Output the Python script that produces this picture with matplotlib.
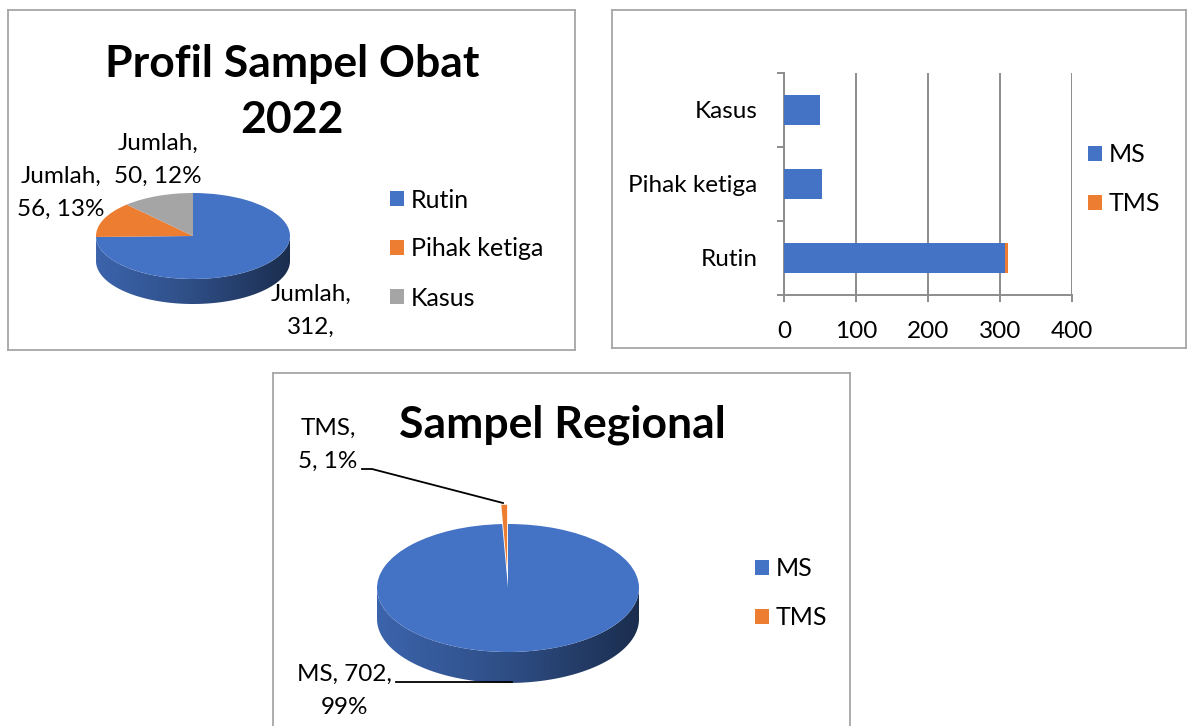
import numpy as np
import matplotlib
matplotlib.use("Agg")
import matplotlib.pyplot as plt
from matplotlib.patches import Polygon, Patch
from matplotlib.colors import LinearSegmentedColormap, to_rgb

# --- data ---------------------------------------------------------------
profil_title = "Profil Sampel Obat\n2022"
profil_series = "Jumlah"
profil_categories = ["Rutin", "Pihak ketiga", "Kasus"]
profil_values = [312, 56, 50]

bar_categories = ["Rutin", "Pihak ketiga", "Kasus"]
bar_series = ["MS", "TMS"]
bar_ms = [307, 53, 50]
bar_tms = [5, 0, 0]
bar_ticks = [0, 100, 200, 300, 400]

regional_title = "Sampel Regional"
regional_categories = ["MS", "TMS"]
regional_values = [702, 5]

BLUE, ORANGE, GRAY = "#4472C4", "#ED7D31", "#A5A5A5"
GRID = "#8C8C8C"
BORDER = "#A6A6A6"
W, H = 1188, 726
LABEL_SIZE = 17.5
LABEL_SPACING = 1.72

plt.rcParams["font.family"] = ["Lato", "DejaVu Sans"]

fig = plt.figure(figsize=(W / 100, H / 100), dpi=100)


def px_axes(x0, y0, x1, y1):
    # axes placed with image pixel coordinates (origin top-left)
    return fig.add_axes([x0 / W, 1 - y1 / H, (x1 - x0) / W, (y1 - y0) / H])


def frame_axes(x0, y0, x1, y1):
    ax = px_axes(x0, y0, x1, y1)
    ax.set_xlim(x0, x1)
    ax.set_ylim(y1, y0)
    ax.patch.set_alpha(0)
    ax.set_xticks([])
    ax.set_yticks([])
    for s in ax.spines.values():
        s.set_color(BORDER)
        s.set_linewidth(1.3)
    ax.set_zorder(5)
    return ax


def side_cmap(color):
    r = np.array(to_rgb(color))
    return LinearSegmentedColormap.from_list(
        "side", [r * 0.88, r * 0.68, r * 0.40])


def pie3d(cx, cy, rx, ry, depth, values, colors, explode=None, pad=30):
    ax = px_axes(cx - rx - pad, cy - ry - pad, cx + rx + pad, cy + ry + depth + pad)
    wedges, _ = ax.pie(values, colors=colors, startangle=90, counterclock=False,
                       explode=explode, wedgeprops=dict(linewidth=0))
    d = depth / ry
    for w, c in zip(wedges, colors):
        w.set_zorder(2)
        t = np.radians(np.linspace(w.theta1, w.theta2, 600))
        idx = np.flatnonzero(np.sin(t) <= 0)
        if idx.size < 2:
            continue
        wx, wy = w.center
        for seg in np.split(idx, np.flatnonzero(np.diff(idx) > 1) + 1):
            tt = t[seg]
            top = np.column_stack([wx + np.cos(tt), wy + np.sin(tt)])
            bot = top[::-1] - [0, d]
            poly = Polygon(np.vstack([top, bot]), closed=True,
                           facecolor="none", edgecolor="none")
            ax.add_patch(poly)
            img = ax.imshow(np.linspace(0, 1, 256)[None, :], cmap=side_cmap(c),
                            extent=(wx - 1, wx + 1, wy - 1 - d, wy + 1),
                            aspect="auto", interpolation="bilinear", zorder=1)
            img.set_clip_path(poly)
    ax.set_aspect("auto")
    ax.set_xlim(-(rx + pad) / rx, (rx + pad) / rx)
    ax.set_ylim(-(ry + depth + pad) / ry, (ry + pad) / ry)
    ax.axis("off")
    return ax, wedges


def pct(values):
    total = sum(values)
    return [round(100 * v / total) for v in values]


def add_legend(ax, labels, colors, x, y):
    handles = [Patch(facecolor=c, edgecolor="none") for c in colors]
    ax.legend(handles, labels, loc="center left", bbox_to_anchor=(x, y),
              bbox_transform=ax.transData, frameon=False, fontsize=18,
              handlelength=0.55, handleheight=0.55, handletextpad=0.28,
              labelspacing=1.04, borderpad=0, borderaxespad=0)


def data_label(ax, x, y, txt):
    ax.text(x, y, txt, ha="center", va="top", fontsize=LABEL_SIZE,
            linespacing=LABEL_SPACING, clip_on=True)


def title(ax, x, y, txt, step=56):
    for i, line in enumerate(txt.split("\n")):
        ax.text(x, y + i * step, line, ha="center", va="center",
                fontsize=32, fontweight="bold")


# --- panel 1: Profil Sampel Obat 2022 ------------------------------------
f1 = frame_axes(8, 10, 575, 350)
pie3d(193, 236, 97, 43, 25, profil_values, [BLUE, ORANGE, GRAY])
title(f1, 292, 64, profil_title)
p1 = pct(profil_values)
data_label(f1, 311, 284, f"{profil_series},\n{profil_values[0]},\n{p1[0]}%")
data_label(f1, 61, 166, f"{profil_series},\n{profil_values[1]}, {p1[1]}%")
data_label(f1, 158, 133, f"{profil_series},\n{profil_values[2]}, {p1[2]}%")
add_legend(f1, profil_categories, [BLUE, ORANGE, GRAY], 390, 249)

# --- panel 2: stacked bar ------------------------------------------------
f2 = frame_axes(612, 10, 1186, 348)
ax = px_axes(784, 73, 1071.7, 295)
y = np.arange(len(bar_categories))
ax.barh(y, bar_ms, height=0.4, color=BLUE, zorder=3)
ax.barh(y, bar_tms, left=bar_ms, height=0.4, color=ORANGE, zorder=3)
ax.set_xlim(bar_ticks[0], bar_ticks[-1])
ax.set_ylim(-0.5, len(bar_categories) - 0.5)
ax.set_xticks(bar_ticks)
ax.set_yticks(y, bar_categories)
ax.set_yticks(np.arange(len(bar_categories) + 1) - 0.5, minor=True)
ax.tick_params(axis="y", which="major", length=0, pad=19, labelsize=17.5)
ax.tick_params(axis="y", which="minor", length=5, width=1.4, color=GRID)
ax.tick_params(axis="x", length=5, width=1.4, color=GRID, pad=13.5, labelsize=17.5)
ax.grid(axis="x", color=GRID, lw=1.4)
ax.set_axisbelow(True)
for s in ["top", "right"]:
    ax.spines[s].set_visible(False)
for s in ["left", "bottom"]:
    ax.spines[s].set_color(GRID)
    ax.spines[s].set_linewidth(1.4)
add_legend(f2, bar_series, [BLUE, ORANGE], 1088, 179)

# --- panel 3: Sampel Regional --------------------------------------------
f3 = frame_axes(273, 373, 850, 740)
pie3d(508, 588, 131, 64, 31, regional_values, [BLUE, ORANGE], explode=[0, 0.3])
title(f3, 562, 425, regional_title)
p3 = pct(regional_values)
data_label(f3, 328, 418, f"{regional_categories[1]},\n{regional_values[1]}, {p3[1]}%")
data_label(f3, 344, 664, f"{regional_categories[0]}, {regional_values[0]},\n{p3[0]}%")
f3.plot([362, 372, 503], [469, 469, 503], color="black", lw=1.3)
f3.plot([396, 512], [682, 682], color="black", lw=1.3)
add_legend(f3, regional_categories, [BLUE, ORANGE], 755, 593)

fig.savefig("out.png", dpi=100, facecolor="white")
